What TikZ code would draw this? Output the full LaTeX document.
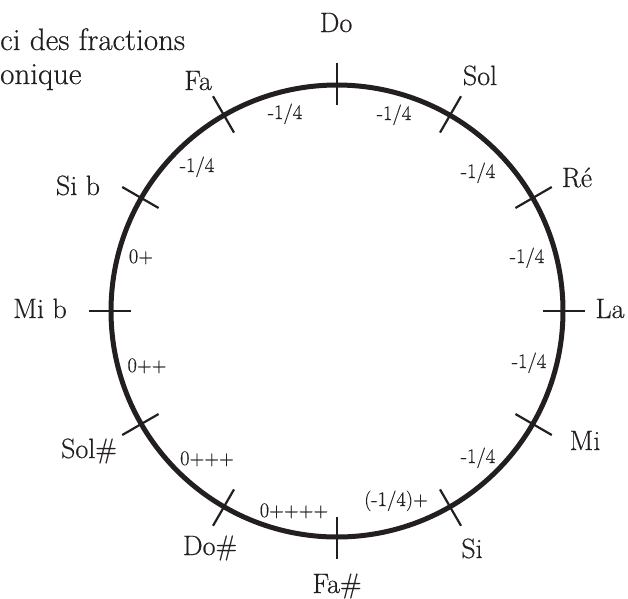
\documentclass[tikz,border=0pt]{standalone}
\usepackage{fontspec}
\setmainfont{Latin Modern Roman}[FakeBold=0.4]
\definecolor{ink}{HTML}{231F20}
\tikzset{
  note/.style={anchor=base, inner sep=0pt, text=ink, font=\fontsize{28}{32}\selectfont},
  frac/.style={anchor=base, inner sep=0pt, text=ink, font=\fontsize{20.5}{24}\selectfont},
  intro/.style={anchor=base west, inner sep=0pt, text=ink, font=\fontsize{31}{34}\selectfont},
  tick/.style={line width=2.2pt, draw=ink},
  ring/.style={line width=5pt, draw=ink}
}
\begin{document}
\begin{tikzpicture}[x=1pt, y=-1pt]
\useasboundingbox (0,0) rectangle (628,598);
% intro text (cropped on the left in the reference)
\node[intro] (t1) at (0,50) {ci des fractions};
\node[intro] (t2) at (0,84) {onique};
% circle and ticks
\begin{scope}[shift={(337,311)}, y=1pt]
  \coordinate (c) at (0,0);
  \draw[ring] (c) circle[radius=226];
  \foreach \a in {0,30,...,330}{
    \draw[tick] (\a:206) -- (\a:248);
  }
\end{scope}
% note names
\node[note] (do)   at (336,32)  {Do};
\node[note] (sol)  at (480,85)  {Sol};
\node[note] (re)   at (577,187) {Ré};
\node[note] (la)   at (610,318) {La};
\node[note] (mi)   at (585,450) {Mi};
\node[note] (si)   at (472,558) {Si};
\node[note] (fad)  at (337,593) {Fa\#};
\node[note] (dod)  at (210,555) {Do\#};
\node[note] (sold) at (89,458)  {Sol\#};
\node[note] (mib)  at (40,318)  {Mi b};
\node[note] (sib)  at (78,195)  {Si b};
\node[note] (fa)   at (198,90)  {Fa};
% fractions
\node[frac] (f1)  at (285,119) {-1/4};
\node[frac] (f2)  at (394,120) {-1/4};
\node[frac] (f3)  at (478,178) {-1/4};
\node[frac] (f4)  at (527,263) {-1/4};
\node[frac] (f5)  at (529,368) {-1/4};
\node[frac] (f6)  at (478,463) {-1/4};
\node[frac] (f7)  at (396,506) {(-1/4)+};
\node[frac] (f8)  at (294,517) {0++++};
\node[frac] (f9)  at (207,465) {0+++};
\node[frac] (f10) at (147,372) {0++};
\node[frac] (f11) at (141,263) {0+};
\node[frac] (f12) at (197,172) {-1/4};
\end{tikzpicture}
\end{document}
